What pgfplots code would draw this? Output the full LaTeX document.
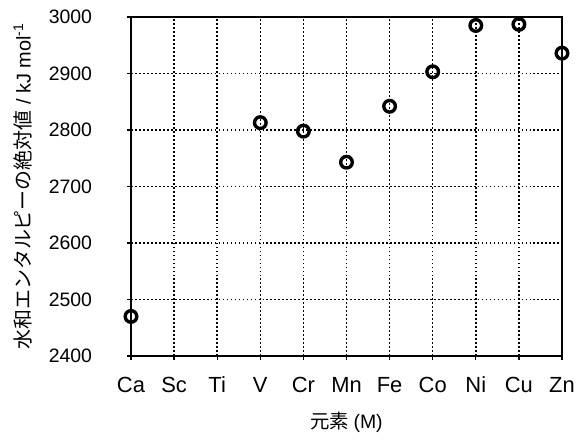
\documentclass[border=0pt]{standalone}
\usepackage{fontspec}
\setmainfont{Liberation Sans}
\newfontfamily\cjk{Noto Sans CJK JP}
\usepackage{pgfplots}
\pgfplotsset{compat=1.18}
\begin{document}
\begin{tikzpicture}
\useasboundingbox (-131bp,-83bp) rectangle (450bp,356bp);
\begin{axis}[
  at={(0,0)}, anchor=south west,
  scale only axis, width=431bp, height=339bp,
  xmin=0, xmax=10, ymin=2400, ymax=3000,
  xtick={0,1,2,3,4,5,6,7,8,9,10},
  xticklabels={Ca,Sc,Ti,V,Cr,Mn,Fe,Co,Ni,Cu,Zn},
  ytick={2400,2500,2600,2700,2800,2900,3000},
  xtick pos=left, ytick pos=left,
  tick align=outside, major tick length=3.5bp,
  grid=major,
  major grid style={black, line width=1.6pt, dash pattern=on 1.8pt off 2.2pt},
  axis line style={black, line width=1.4pt},
  every tick/.style={black, line width=1.4pt},
  /pgf/number format/assume math mode=true,
  /pgf/number format/1000 sep={},
  yticklabel style={font=\fontsize{19.5}{22}\selectfont, xshift=-32bp},
  xticklabel style={font=\fontsize{22}{24}\selectfont, yshift=-14bp},
  xlabel={\cjk 元素\ \rmfamily(M)},
  xlabel style={font=\fontsize{19.5}{22}\selectfont, at={(rel axis cs:0.5,0)}, anchor=center, yshift=-66bp},
  ylabel={\cjk 水和エンタルピーの絶対値\rmfamily\ / kJ mol\textsuperscript{-1}},
  ylabel style={font=\fontsize{20}{22}\selectfont, at={(rel axis cs:0,0.5)}, anchor=center, yshift=108bp},
  clip=false,
]
\addplot[only marks, mark=o, mark size=5.8bp, mark options={line width=3.4pt, black}]
 coordinates {
 (0,2470) (3,2813) (4,2798) (5,2743) (6,2842) (7,2903) (8,2985) (9,2987) (10,2936)
 };
\end{axis}
\end{tikzpicture}
\end{document}
